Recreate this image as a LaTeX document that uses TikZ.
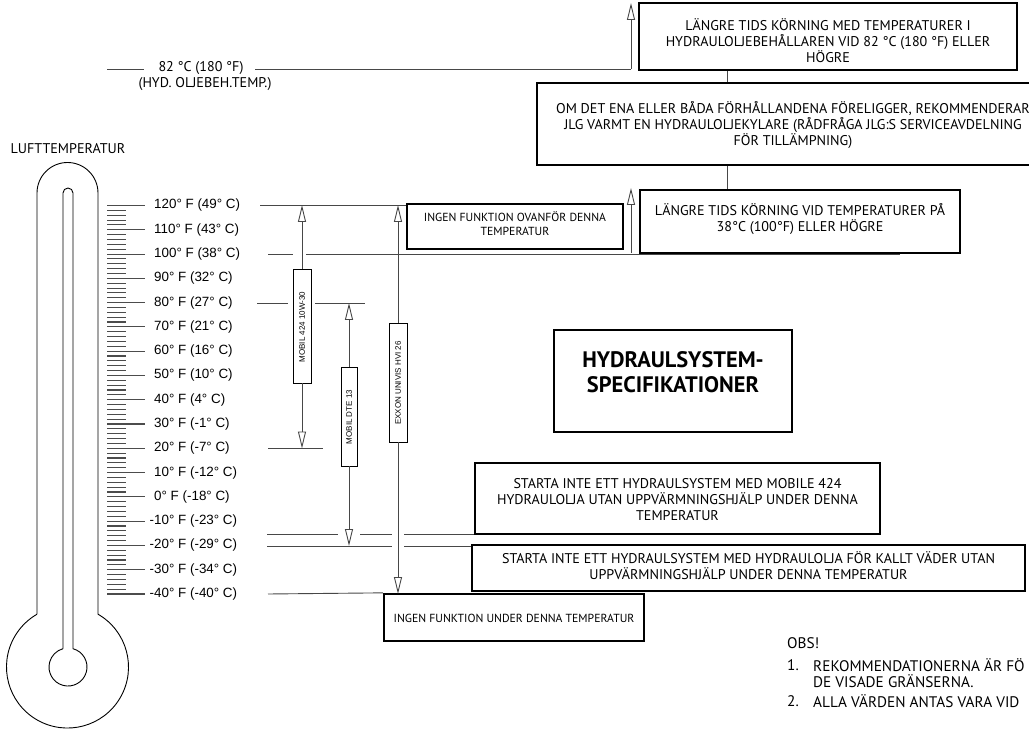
\documentclass[tikz,border=0pt]{standalone}
\usepackage{fontspec}
\setmainfont{PT Sans}
\newfontfamily\arialfont{Liberation Sans}
\usetikzlibrary{arrows.meta}

\begin{document}
\begin{tikzpicture}[x=1pt,y=-1pt,
  rule/.style={draw=black!72, line width=0.9pt},
  tube/.style={draw=black, line width=0.9pt},
  tick/.style={draw=black!70, line width=1.1pt},
  box/.style={draw=black, line width=2.3pt, fill=white, inner sep=0pt, rectangle},
  oilbox/.style={draw=black, line width=0.9pt, fill=white, inner sep=0pt, rectangle},
  openarrow/.style={-{Triangle[open,length=17pt,width=8pt]}, draw=black!72, line width=0.9pt},
  txt/.style={font=\fontsize{14.1}{16}\selectfont, align=center, inner sep=0pt},
  notetxt/.style={font=\fontsize{15.3}{17}\selectfont, anchor=west, inner sep=0pt},
  smalltxt/.style={font=\fontsize{11.7}{14}\selectfont, align=center, inner sep=0pt},
  scaletxt/.style={font=\arialfont\fontsize{13.4}{15}\selectfont, anchor=west, inner sep=0pt},
  oiltxt/.style={font=\arialfont\fontsize{8}{9}\selectfont, rotate=90, inner sep=0pt},
  titletxt/.style={font=\bfseries\fontsize{22.4}{25}\selectfont, align=center, inner sep=0pt},
]
\useasboundingbox (0,0) rectangle (1029,730);
\begin{scope}
\clip (0,0) rectangle (1029,730);

% ---------- thermometer ----------
\node[txt] (luft) at (68,149) {LUFTTEMPERATUR};
\draw[tube] (37,614.2) -- (37,193) arc[start angle=180,end angle=360,radius=30.5]
  -- (98,614.2) arc[start angle=-60,end angle=240,radius=61];
\draw[tube] (63,648.7) -- (63,193) arc[start angle=180,end angle=360,radius=5]
  -- (73,648.7) arc[start angle=-74.74,end angle=254.74,radius=19];

% scale: a tick every 2 °F, longer ones every 10 °F
\foreach \t in {-40,-38,...,120}{
  \pgfmathsetmacro{\yy}{205.5+(120-\t)*2.4281}
  \pgfmathtruncatemacro{\mm}{mod(abs(\t),10)}
  \ifnum\mm=0
    \draw[tick] (107,\yy) -- (145,\yy);
  \else
    \draw[tick] (107,\yy) -- (126,\yy);
  \fi
}
\foreach \t/\f/\c [count=\i] in {120/120/49,110/110/43,100/100/38,90/90/32,80/80/27,
    70/70/21,60/60/16,50/50/10,40/40/4,30/30/-1,20/20/-7,10/10/-12,0/0/-18,
    -10/{\llap{-}10}/-23,-20/{\llap{-}20}/-29,-30/{\llap{-}30}/-34,-40/{\llap{-}40}/-40}{
  \pgfmathsetmacro{\yy}{205.5+(120-\t)*2.4281}
  \node[scaletxt] (lab\i) at (154,\yy) {\f° F (\c° C)};
}

% ---------- hydraulic oil tank temperature ----------
\node[txt] (t82) at (201,68) {82 °C (180 °F)};
\node[txt] (t82b) at (205,84) {(HYD. OLJEBEH.TEMP.)};
\coordinate (h82l) at (107,69);
\coordinate (h82m) at (144,69);
\coordinate (h82r) at (255,69);
\coordinate (up82) at (631,69);
\coordinate (up82tip) at (631,3);
\draw[rule] (h82l) -- (h82m);
\draw[rule] (h82r) -- (up82);
\draw[openarrow] (up82) -- (up82tip);

\node[box, minimum width=378, minimum height=67] (b1) at (828,36.5) {};
\node[txt] (b1t) at (828,41) {LÄNGRE TIDS KÖRNING MED TEMPERATURER I\\
  HYDRAULOLJEBEHÅLLAREN VID 82 °C (180 °F) ELLER\\ HÖGRE};

\node[box, minimum width=512, minimum height=82] (b2) at (793,124) {};
\node[txt] (b2t) at (793,125) {OM DET ENA ELLER BÅDA FÖRHÅLLANDENA FÖRELIGGER, REKOMMENDERAR\\
  JLG VARMT EN HYDRAULOLJEKYLARE (RÅDFRÅGA JLG:S SERVICEAVDELNING\\ FÖR TILLÄMPNING)};

\coordinate (c1a) at (727,70);
\draw[rule] (b1.south -| c1a) -- (b2.north -| c1a);

% ---------- level lines ----------
\node[box, minimum width=216, minimum height=45] (ovan) at (515,226.5) {};
\node[smalltxt] (ovant) at (515,224) {INGEN FUNKTION OVANFÖR DENNA\\ TEMPERATUR};

\coordinate (l120a) at (260,205);
\draw[rule] (l120a) -- (ovan.west |- l120a);

\coordinate (l100a) at (268,254);
\coordinate (l100b) at (293,254);
\coordinate (l100c) at (306,254);
\coordinate (l100d) at (900,254);
\draw[rule] (l100a) -- (l100b);
\draw[rule] (l100c) -- (l100d);
\coordinate (up100) at (631,253);
\coordinate (up100tip) at (631,188);
\draw[openarrow] (up100) -- (up100tip);

% box 3 lies over the end of the 100 °F line
\node[box, minimum width=320, minimum height=63] (b3) at (800,221.5) {};
\node[txt] (b3t) at (800,219) {LÄNGRE TIDS KÖRNING VID TEMPERATURER PÅ\\ 38°C (100°F) ELLER HÖGRE};
\draw[rule] (b2.south -| c1a) -- (b3.north -| c1a);

\draw[rule] (257,303) coordinate (l80a) -- (288,303) coordinate (l80b);
\draw[rule] (315,303) coordinate (l80c) -- (365,303) coordinate (l80d);

\draw[rule] (268,448.5) coordinate (l20a) -- (323,448.5) coordinate (l20b);

\node[box, minimum width=405, minimum height=71] (st1) at (677.5,498.5) {};
\node[txt] (st1t) at (677.5,500) {STARTA INTE ETT HYDRAULSYSTEM MED MOBILE 424\\
  HYDRAULOLJA UTAN UPPVÄRMNINGSHJÄLP UNDER DENNA\\ TEMPERATUR};

\node[box, minimum width=553, minimum height=46] (st2) at (748.5,568) {};
\node[txt] (st2t) at (748.5,566) {STARTA INTE ETT HYDRAULSYSTEM MED HYDRAULOLJA FÖR KALLT VÄDER UTAN\\
  UPPVÄRMNINGSHJÄLP UNDER DENNA TEMPERATUR};

\draw[rule] (267,534) coordinate (l15a) -- (338,534) coordinate (l15b);
\draw[rule] (360,534) coordinate (l15c) -- (392,534) coordinate (l15d);
\draw[rule] (404,534) coordinate (l15e) -- (st1.west |- l15e);

\draw[rule] (267,546) coordinate (lm20a) -- (392,546) coordinate (lm20b);
\draw[rule] (404,546) coordinate (lm20c) -- (st2.west |- lm20c);

\node[box, minimum width=260, minimum height=47] (under) at (514,617.5) {};
\node[smalltxt] (undert) at (514,618) {INGEN FUNKTION UNDER DENNA TEMPERATUR};
\coordinate (lm40a) at (268,594);
\draw[rule] (lm40a) -- (under.north west);

% ---------- oil ranges ----------
\node[oilbox, minimum width=18, minimum height=114] (m424) at (302,326) {};
\node[oiltxt] (m424t) at (302,327) {MOBIL 424 10W-30};
\coordinate (m424top) at (302,205);
\coordinate (m424bot) at (302,448.5);
\draw[openarrow] (m424.north) -- (m424top);
\draw[openarrow] (m424.south) -- (m424bot);

\node[oilbox, minimum width=16, minimum height=99] (dte) at (349,416.5) {};
\node[oiltxt] (dtet) at (349,417) {MOBIL DTE 13};
\coordinate (dtetop) at (349,303);
\coordinate (dtebot) at (349,546);
\draw[openarrow] (dte.north) -- (dtetop);
\draw[openarrow] (dte.south) -- (dtebot);

\node[oilbox, minimum width=18, minimum height=119] (exx) at (398,382.5) {};
\node[oiltxt] (exxt) at (398,383) {EXXON UNIVIS HVI 26};
\coordinate (exxtop) at (398,205);
\coordinate (exxbot) at (398,594);
\draw[openarrow] (exx.north) -- (exxtop);
\draw[openarrow] (exx.south) -- (exxbot);

% ---------- title ----------
\node[box, minimum width=238, minimum height=102] (title) at (673,381) {};
\node[titletxt] (titlet) at (673,372) {HYDRAULSYSTEM-\\ SPECIFIKATIONER};

% ---------- notes ----------
\node[notetxt] (obs) at (787,643) {OBS!};
\node[notetxt] (n1) at (787,665) {1.};
\node[notetxt] (n1t) at (813,665) {REKOMMENDATIONERNA ÄR FÖ};
\node[notetxt] (n1u) at (813,681) {DE VISADE GRÄNSERNA.};
\node[notetxt] (n2) at (787,701) {2.};
\node[notetxt] (n2t) at (813,701) {ALLA VÄRDEN ANTAS VARA VID};
\end{scope}
\end{tikzpicture}
\end{document}
